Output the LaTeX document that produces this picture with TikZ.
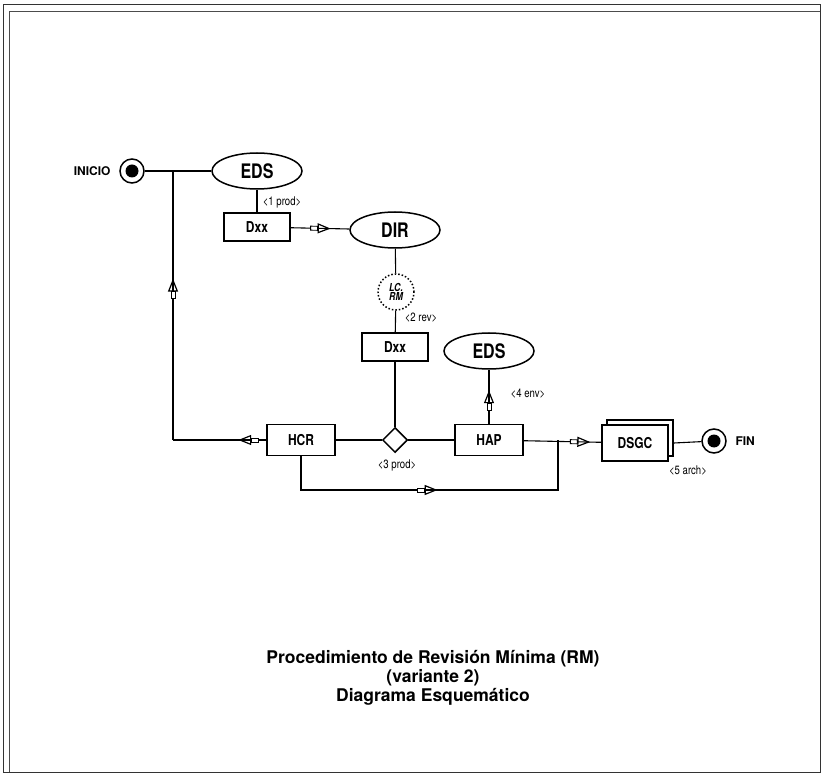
\documentclass[tikz,border=0pt]{standalone}
\usepackage{fontspec}
\setmainfont{TeX Gyre Heros}
\usepackage{tikz}
\usetikzlibrary{arrows.meta, shapes.geometric, decorations.markings, calc}

% condensed lettering as in the scanned chart
\newcommand{\cnd}[1]{\scalebox{0.8}[1]{#1}}

\begin{document}
\begin{tikzpicture}[x=1pt, y=-1pt,
    conn/.style={line width=1.1pt},
    midarrow/.style={postaction={decorate}, decoration={markings,
        mark=at position #1 with {
          \draw[line width=0.9pt, fill=white] (-20pt,-2pt) rectangle (-13pt,2pt);
          \arrow{Triangle[open, length=13pt, width=10pt, line width=1.2pt]}}}},
    boxnode/.style={draw, line width=1.7pt, fill=white, minimum width=68pt, minimum height=31pt,
                    inner sep=0pt, font=\fontsize{15}{17}\selectfont\bfseries},
    dxxbox/.style={boxnode, minimum width=66pt, minimum height=28pt},
    ellnode/.style={draw, ellipse, line width=1.5pt, minimum width=90pt, minimum height=36pt,
                    inner sep=0pt, font=\fontsize{20}{22}\selectfont\bfseries},
    checknode/.style={draw, circle, dotted, line width=1.5pt, minimum size=36pt, inner sep=0pt,
                      align=center, font=\fontsize{11}{9.5}\selectfont\bfseries\itshape},
    decnode/.style={draw, diamond, line width=1.5pt, minimum size=25pt, inner sep=0pt},
    termnode/.style={draw, circle, line width=1.5pt, minimum size=24pt, inner sep=0pt,
                     path picture={\fill (path picture bounding box.center) circle (6.5pt);}},
    lbl/.style={font=\fontsize{12}{14}\selectfont},
    termlbl/.style={font=\fontsize{12}{14}\selectfont\bfseries}
  ]

  % ---- Page frame ----
  \useasboundingbox (0,0) rectangle (822,775);
  \draw[line width=0.8pt, black!80] (3,4) rectangle (820,772);
  \draw[line width=0.6pt, black!70] (9,772) -- (9,11) -- (820,11);

  % ---- Start / end ----
  \node[termnode] (inicio) at (132,171) {};
  \node[termlbl, anchor=east] (inicioLbl) at (114,171) {INICIO};
  \node[termnode] (fin) at (714,441) {};
  \node[termlbl, anchor=west] (finLbl) at (732,441) {FIN};

  % ---- Upper chain ----
  \node[ellnode] (eds1) at (257,171) {\cnd{EDS}};
  \node[dxxbox] (dxx1) at (257,227) {\cnd{Dxx}};
  \node[ellnode] (dir) at (395,230) {\cnd{DIR}};
  \node[checknode] (lcrm) at (396,292) {\cnd{LC.}\\\cnd{RM}};
  \node[dxxbox] (dxx2) at (395,347) {\cnd{Dxx}};

  % ---- Lower row ----
  \node[decnode] (dec) at (395,440) {};
  \node[boxnode] (hcr) at (301,440) {\cnd{HCR}};
  \node[boxnode] (hap) at (489,440) {\cnd{HAP}};
  \node[ellnode] (eds2) at (489,351) {\cnd{EDS}};
  \node[boxnode, minimum width=66pt, minimum height=36pt] (dsgcback) at (640,438) {};
  \node[boxnode, minimum width=66pt, minimum height=36pt] (dsgc) at (635,443) {\cnd{DSGC}};

  % junction points of the loops
  \coordinate (jtop) at (173,171);
  \coordinate (jbot) at (173,440);
  \coordinate (jright) at (558,440);
  \coordinate (jlow) at (558,490);

  % ---- Connectors ----
  \draw[conn] (inicio) -- (eds1);
  \draw[conn] (eds1) -- (dxx1);
  \draw[conn, midarrow=0.68] (dxx1) -- (dir);
  \draw[conn] (dir) -- (lcrm);
  \draw[conn] (lcrm) -- (dxx2);
  \draw[conn] (dxx2) -- (dec);
  \draw[conn] (hcr) -- (dec);
  \draw[conn] (dec) -- (hap);
  \draw[conn, midarrow=0.62] (hap) -- (eds2);
  \draw[conn, midarrow=0.86] (hap) -- (dsgc);
  \draw[conn, midarrow=0.5] (hcr.south) |- (jlow) -- (jright);
  \draw[conn, midarrow=0.3] (hcr) -- (jbot);
  \draw[conn, midarrow=0.6] (jbot) -- (jtop);
  \draw[conn] (dsgc.east -| dsgcback.east) -- (fin);

  % ---- Labels ----
  \node[lbl] (l1) at (282,202) {\cnd{<1 prod>}};
  \node[lbl] (l2) at (421,318) {\cnd{<2 rev>}};
  \node[lbl] (l3) at (397,465) {\cnd{<3 prod>}};
  \node[lbl] (l4) at (528,394) {\cnd{<4 env>}};
  \node[lbl] (l5) at (688,471) {\cnd{<5 arch>}};

  % ---- Title ----
  \node[align=center, font=\fontsize{17.5}{19}\selectfont\bfseries] (title) at (433,678)
    {Procedimiento de Revisión Mínima (RM)\\(variante 2)\\Diagrama Esquemático};

\end{tikzpicture}
\end{document}
